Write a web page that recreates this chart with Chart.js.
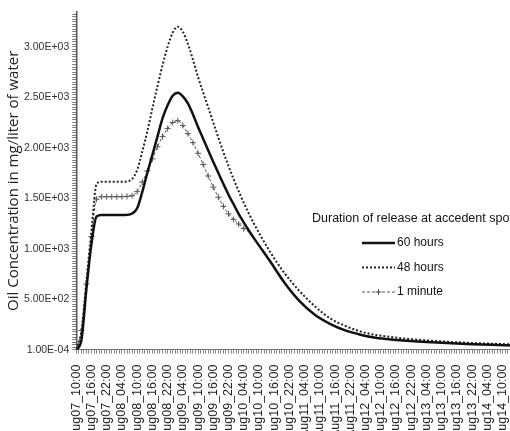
<!DOCTYPE html>
<html>
<head>
<meta charset="utf-8">
<script src="https://cdn.jsdelivr.net/npm/chart.js@4"></script>
<style>
  html, body { margin: 0; padding: 0; background: #fff; width: 510px; height: 431px; overflow: hidden; }
  #wrap { position: absolute; left: 0; top: 0; width: 559px; height: 450px; }
</style>
</head>
<body>
<div id="wrap"><canvas id="c" width="559" height="450"></canvas></div>
<script>
// ── Data (hours since Aug07 10:00) ──────────────────────────────────────────

const hours = [
    0, 2, 4, 6, 8, 10, 12, 14, 16, 18, 20, 22, 24, 26, 28, 30, 32, 34,
    36, 38, 40, 42, 44, 46, 48, 50, 52, 54, 56, 58, 60, 62, 64, 66, 68, 70,
    76, 82, 88, 94, 100, 106, 112, 118, 124, 130, 136, 142, 148, 154, 160, 166, 172, 178,
];

const release60h = [
    0, 90, 600, 1050, 1320, 1333, 1333, 1333, 1333, 1333, 1335, 1348, 1400, 1560, 1750, 1930, 2110, 2290,
    2420, 2515, 2545, 2510, 2440, 2330, 2205, 2090, 1975, 1860, 1750, 1640, 1535, 1440, 1345, 1260, 1180, 1105,
    890, 665, 480, 345, 255, 190, 148, 118, 100, 88, 78, 70, 62, 56, 50, 46, 42, 38,
];

const release48h = [
    0, 180, 680, 1180, 1640, 1663, 1663, 1663, 1663, 1663, 1666, 1690, 1780, 1960, 2160, 2390, 2610, 2820,
    3000, 3140, 3200, 3150, 3030, 2870, 2700, 2550, 2400, 2250, 2100, 1955, 1820, 1690, 1570, 1455, 1350, 1250,
    985, 760, 580, 430, 310, 235, 180, 145, 125, 108, 95, 85, 76, 68, 62, 57, 52, 48,
];

const release1min = [
    0, 190, 650, 1120, 1490, 1515, 1515, 1515, 1515, 1515, 1518, 1525, 1565, 1660, 1770, 1890, 2010, 2110,
    2190, 2250, 2268, 2220, 2140, 2050, 1945, 1835, 1720, 1610, 1510, 1420, 1345, 1290, 1245, 1200, 1165, 1105,
    892, 668, 484, 350, 258, 194, 152, 122, 104, 91, 80, 72, 64, 57, 51, 47, 43, 39,
];

// x tick labels, one every 6 hours
const tickLabels = [
    "Aug07_10:00", "Aug07_16:00", "Aug07_22:00",
    "Aug08_04:00", "Aug08_10:00", "Aug08_16:00", "Aug08_22:00",
    "Aug09_04:00", "Aug09_10:00", "Aug09_16:00", "Aug09_22:00",
    "Aug10_04:00", "Aug10_10:00", "Aug10_16:00", "Aug10_22:00",
    "Aug11_04:00", "Aug11_10:00", "Aug11_16:00", "Aug11_22:00",
    "Aug12_04:00", "Aug12_10:00", "Aug12_16:00", "Aug12_22:00",
    "Aug13_04:00", "Aug13_10:00", "Aug13_16:00", "Aug13_22:00",
    "Aug14_04:00", "Aug14_10:00",
];

const yTickValues = [0, 500, 1000, 1500, 2000, 2500, 3000];
const yTickLabels = ["1.00E-04", "5.00E+02", "1.00E+03", "1.50E+03", "2.00E+03", "2.50E+03", "3.00E+03"];

const seriesNames = ["60 hours", "48 hours", "1 minute"];
const legendTitle = "Duration of release at accedent spot";
const yTitle = "Oil Concentration in mg/liter of water";

// ── Helpers ─────────────────────────────────────────────────────────────────

const toPoints = (vals) => hours.map((h, i) => ({ x: h, y: vals[i] }));

// legend drawn inside the plot, like the Excel original
const insideLegend = {
    id: "insideLegend",
    afterDraw(chart) {
        const ctx = chart.ctx;
        ctx.save();
        ctx.fillStyle = "#111";
        ctx.textBaseline = "middle";
        ctx.font = '12.5px "Liberation Sans"';
        ctx.fillText(legendTitle, 312, 219);
        ctx.font = '12px "Liberation Sans"';
        chart.data.datasets.forEach((ds, i) => {
            const y = 243 + i * 24.5;
            ctx.strokeStyle = ds.borderColor;
            ctx.lineWidth = ds.borderWidth;
            ctx.setLineDash(ds.borderDash || []);
            ctx.beginPath();
            ctx.moveTo(362, y);
            ctx.lineTo(395, y);
            ctx.stroke();
            ctx.setLineDash([]);
            if (ds.pointStyle === "cross") {
                ctx.strokeStyle = ds.pointBorderColor;
                ctx.lineWidth = 1;
                ctx.beginPath();
                ctx.moveTo(378.5, y - 3);
                ctx.lineTo(378.5, y + 3);
                ctx.moveTo(375.5, y);
                ctx.lineTo(381.5, y);
                ctx.stroke();
            }
            ctx.fillText(ds.label, 397, y);
        });
        ctx.restore();
    },
};

// ── Chart ───────────────────────────────────────────────────────────────────

new Chart(document.getElementById("c"), {
    type: "line",
    data: {
        datasets: [
            {
                label: seriesNames[0],
                data: toPoints(release60h),
                borderColor: "#111",
                borderWidth: 2.5,
                pointRadius: 0,
                cubicInterpolationMode: "monotone",
            },
            {
                label: seriesNames[1],
                data: toPoints(release48h),
                borderColor: "#222",
                borderWidth: 2,
                borderDash: [2, 2],
                pointRadius: 0,
                cubicInterpolationMode: "monotone",
            },
            {
                label: seriesNames[2],
                data: toPoints(release1min),
                borderColor: "#555",
                borderWidth: 1,
                borderDash: [3, 2],
                pointStyle: "cross",
                // markers sink under the 60 hours line on the tail
                pointRadius: (c) => (c.raw && c.raw.x > 66 ? 0 : 3),
                pointBorderWidth: 1,
                pointBorderColor: "#555",
                cubicInterpolationMode: "monotone",
            },
        ],
    },
    options: {
        responsive: false,
        animation: false,
        devicePixelRatio: 1,
        layout: { padding: { left: 0, top: 12, right: 0, bottom: 0 } },
        plugins: {
            legend: { display: false },
            tooltip: { enabled: false },
        },
        scales: {
            x: {
                type: "linear",
                min: 0,
                max: 180,
                afterBuildTicks(axis) {
                    const t = [];
                    for (let h = 0; h <= 180; h++) t.push({ value: h });
                    axis.ticks = t;
                },
                ticks: {
                    autoSkip: false,
                    minRotation: 90,
                    maxRotation: 90,
                    padding: 11,
                    color: "#222",
                    font: { family: "Liberation Sans", size: 12.5 },
                    callback(v) {
                        const i = v / 6;
                        return Number.isInteger(i) && i < tickLabels.length ? tickLabels[i] : "";
                    },
                },
                grid: { drawOnChartArea: false, tickLength: 4, tickColor: "#888" },
                border: { color: "#777", width: 1 },
            },
            y: {
                min: 0,
                max: 3345,
                afterBuildTicks(axis) {
                    const t = [];
                    for (let v = 0; v <= 3325; v += 25) t.push({ value: v });
                    axis.ticks = t;
                },
                ticks: {
                    autoSkip: false,
                    padding: 3,
                    color: "#333",
                    font: { family: "Liberation Sans", size: 10.5 },
                    callback(v) {
                        const i = yTickValues.indexOf(v);
                        return i >= 0 ? yTickLabels[i] : "";
                    },
                },
                grid: { drawOnChartArea: false, tickLength: 4, tickColor: "#777" },
                border: { color: "#555", width: 1.5 },
                title: {
                    display: true,
                    text: yTitle,
                    color: "#222",
                    font: { family: "Open Sans", size: 15, lineHeight: 1 },
                    padding: { top: 6, bottom: 0 },
                },
            },
        },
    },
    plugins: [insideLegend],
});
</script>
</body>
</html>
